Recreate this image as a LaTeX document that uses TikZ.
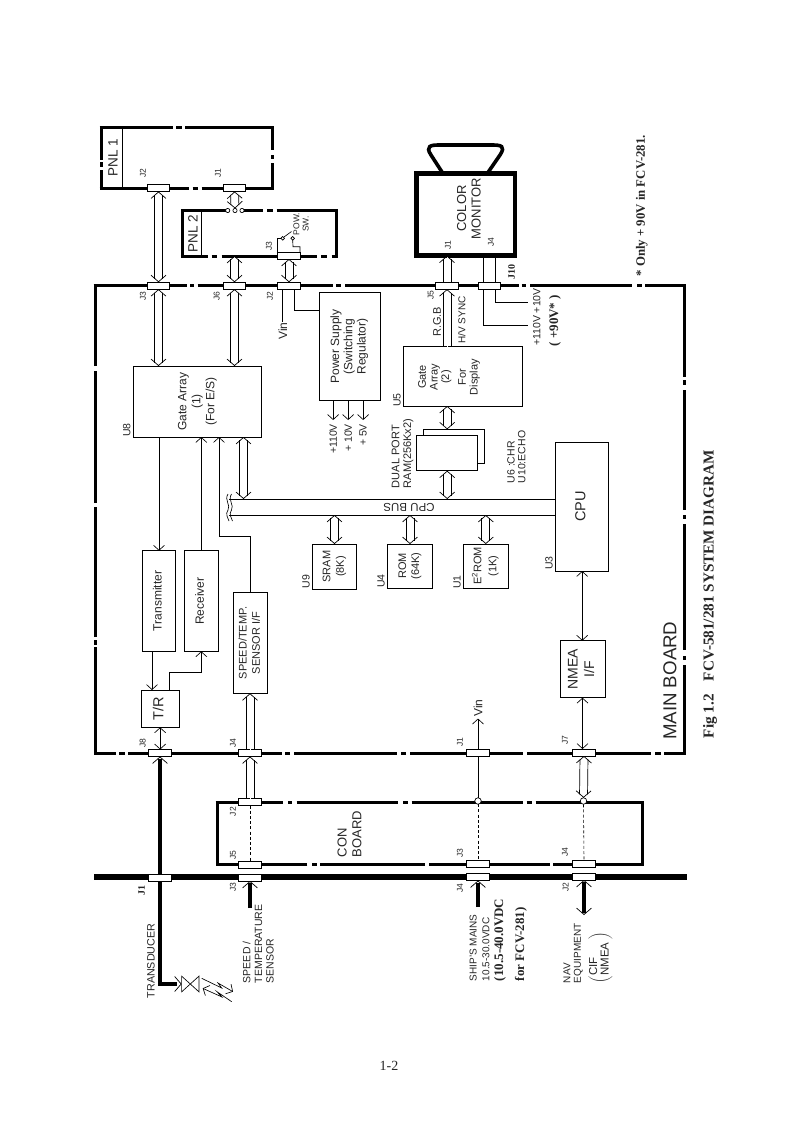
\documentclass[tikz,border=0pt]{standalone}
\usepackage{fontspec}
\usepackage{graphicx}
\setmainfont{Liberation Sans}
\newfontfamily\bsf{Liberation Serif}
\usetikzlibrary{arrows.meta,calc,backgrounds}
\newcommand\fsz[2]{\fontsize{#1}{#2}\selectfont}
\newcommand\rt[1]{\rotatebox{90}{\begin{tabular}{@{}c@{}}#1\end{tabular}}}
\tikzset{
  x=1pt,y=-1pt,
  every node/.style={inner sep=0pt,outer sep=0pt,text=black!85},
  boxn/.style={draw=black,line width=1pt,fill=white,inner sep=0pt,align=center},
  ghost/.style={inner sep=0pt},
  conn/.style={draw=black,line width=.7pt,fill=white,minimum width=22.5pt,minimum height=7pt},
  rnd/.style={circle,draw=black,line width=.7pt,fill=white,minimum size=#1},
  lab/.style={rotate=90,align=center,font=\fsz{11}{12.5}},
  labl/.style={rotate=90,align=left,anchor=west,font=\fsz{10.5}{11.7}},
  jl/.style={rotate=90,font=\fsz{8.5}{9}},
  ul/.style={rotate=90,font=\fsz{10.5}{11}},
  bdl/.style={rotate=90,font=\bsf\bfseries\fsz{13}{14}},
  bd/.style={line width=3pt,draw=black},
  thinln/.style={line width=.65pt,draw=black},
  shaftln/.style={line width=.7pt,draw=black},
  dashln/.style={line width=.6pt,draw=black,dash pattern=on 3pt off 2.2pt},
  tt/.tip={Straight Barb[length=5pt,width=11pt]},
  bb/.tip={Straight Barb[length=6.5pt,width=15pt,color=black]},
  dhead/.style={line width=.7pt,draw=white},
  fat/.style={line width=3.4pt,draw=black},
}
\newcommand\bx[7][]{\node[boxn,minimum width={(#5-#3)*1pt},minimum height={(#6-#4)*1pt},#1] (#2) at ({(#3+#5)/2},{(#4+#6)/2}) {#7};}
\newcommand\cn[3]{\node[conn] (#1) at (#2,#3) {};}
% vertical double-line arrows: two parallel rails plus open heads
\newcommand\dblBoth[2]{%
  \draw[dhead,bb-bb] #1 -- #2;
  \draw[shaftln,shorten <=3.4pt,shorten >=3.4pt,transform canvas={xshift=-4pt}] #1 -- #2;
  \draw[shaftln,shorten <=3.4pt,shorten >=3.4pt,transform canvas={xshift=4pt}] #1 -- #2;}
\newcommand\dblEnd[2]{%
  \draw[dhead,-bb] #1 -- #2;
  \draw[shaftln,shorten >=3.4pt,transform canvas={xshift=-4pt}] #1 -- #2;
  \draw[shaftln,shorten >=3.4pt,transform canvas={xshift=4pt}] #1 -- #2;}
\newcommand\fatEnd[2]{\draw[dhead,-bb] #1 -- #2;\draw[fat,shorten >=2pt] #1 -- #2;}
\newcommand\hsegs[2]{\foreach \a/\b in {#2} {\draw[bd] (\a,#1) -- (\b,#1);}}
\newcommand\vsegs[2]{\foreach \a/\b in {#2} {\draw[bd] (#1,\a) -- (#1,\b);}}
\begin{document}
\begin{tikzpicture}
\useasboundingbox (0,0) rectangle (793,1122);

% ---------- invisible frames (for names)
\node[ghost,minimum width=154.4pt,minimum height=46pt] (pnlB) at (259.5,233) {};
\node[ghost,minimum width=171pt,minimum height=61pt] (pnlA) at (186.5,157.5) {};

% ---------- connectors
\cn{JpnlTwo}{158.5}{188}\cn{JpnlOne}{234.5}{188}
\cn{JpsThree}{289}{255.5}
\cn{JmThree}{158.5}{285.7}\cn{JmSix}{234.5}{285.7}\cn{JmTwo}{289}{285.7}
\cn{JmFive}{447}{285.7}\cn{JmTen}{489.5}{285.7}
\cn{JmonFour}{489.5}{254}
\cn{JmEight}{160}{753}\cn{JmFour}{250}{753}\cn{JmOne}{478}{753}\cn{JmSeven}{584}{752.5}
\cn{JcTwo}{250}{802}\cn{JcFive}{250}{864.5}\cn{JcThree}{478}{864}\cn{JcFour}{584}{863.5}
\cn{JsOne}{160}{877.5}\cn{JsThree}{250}{877.5}\cn{JsFour}{478}{877}\cn{JsTwo}{584}{876.5}
\node[rnd=6.5pt] (cA) at (478,801) {};
\node[rnd=6.5pt] (cB) at (583.5,801) {};
\node[rnd=4.2pt] (ca) at (227.7,210.5) {};
\node[rnd=4.2pt] (cb) at (235,210.5) {};
\node[rnd=4.2pt] (cc) at (242,210.5) {};

% ---------- boxes
\bx{GA}{133.3}{366}{261.7}{437}{\fsz{12}{14}\rt{Gate Array\\(1)\\(For E/S)}}
\bx{PS}{319.3}{292.7}{380}{400}{\fsz{12}{13.3}\rt{Power Supply\\(Switching\\Regulator)}}
\bx{GB}{403.3}{346.7}{522.7}{406}{}
\bx[line width=4.5pt]{mon}{416.7}{173.3}{515}{255.7}{}
\bx{RAMb}{423.3}{429.3}{484}{463.3}{}
\bx{RAMf}{416.7}{435}{477.7}{470.7}{}
\bx{CPU}{555.7}{442}{608.7}{571}{\fsz{14.5}{16}\rt{CPU}}
\bx{SRAM}{312.3}{544}{356.7}{589}{\fsz{11}{13.5}\rt{SRAM\\(8K)}}
\bx{ROM}{387.7}{544}{432.3}{588}{\fsz{11}{13}\rt{ROM\\(64K)}}
\bx{EROM}{463.3}{544}{508.3}{588}{\fsz{11}{15}\rt{E\textsuperscript{2}ROM\\(1K)}}
\bx{TX}{142.3}{550.7}{175.7}{651.3}{\fsz{12}{13}\rt{Transmitter}}
\bx{RX}{184.3}{550.7}{218.3}{651.3}{\fsz{12}{13}\rt{Receiver}}
\bx{ST}{233.7}{592.7}{267.3}{693.3}{\fsz{11}{13.3}\rt{SPEED/TEMP.\\SENSOR I/F}}
\bx{TR}{141.3}{690}{179}{727.3}{\fsz{14.5}{16}\rt{T/R}}
\bx{NM}{560}{640.7}{605}{697.7}{\fsz{14}{16.5}\rt{NMEA\\I/F}}
\node[minimum width=17.3pt,minimum height=15.7pt] (bow) at (190.3,984) {};

% ---------- board outlines behind the connectors
\begin{pgfonlayer}{background}
 \fill[white] (0,0) rectangle (793,1122);
 % main board
 \hsegs{285.7}{93.5/186.7,190/194,197.7/333,336/340.5,345/519.3,521.7/525.5,530/631.7,637.3/641.7,645/685.5}
 \vsegs{684}{285.7/376.7,380/385,390/510,515/519.3,524.3/650,656/660,665/754.5}
 \hsegs{753}{685.5/664,660.7/655,650.7/526.7,522.7/489,467/410,406/400.5,396.7/294,290/285,281.7/128.3,125/119.3,116/93.5}
 \vsegs{95}{754.5/646.7,645/640,637/513.3,512.7/507,503/370.7,366/360.7,360.7/284.2}
 % PNL1
 \hsegs{127}{99.5/173.3,176/181.7,185/273.5}
 \vsegs{272}{127/150,155/159.3,163.3/189.5}
 \hsegs{188}{99.5/189.3,192.7/198.3,201.7/273.5}
 \vsegs{101}{127/160,162/167,170/188}
 % PNL2
 \hsegs{210}{180.8/228,243.3/263.3,267.3/272.7,276.7/338.2}
 \vsegs{336.7}{210/257.5}
 \hsegs{256}{180.8/208.3,211.7/216.7,221.7/316.7,321/326.7,331.7/338.2}
 \vsegs{182.3}{210/256}
 % CON board
 \hsegs{802}{215.5/283,288/292,296.7/398,403/408,411.7/523,526.7/531.7,535.7/643.5}
 \vsegs{642}{802/865.5}
 \hsegs{864}{643.5/553.3,550/429.3,425/320,316.7/311.7,307.3/215.5}
 \vsegs{217}{802/864}
 % chassis line
 \draw[line width=6pt,draw=black] (94,877) -- (687,877);
 % monitor handle
 \draw[line width=3.6pt,draw=black] (442,172) -- (431,155) .. controls (425,146) and (431,145) .. (439,145) -- (492,145) .. controls (501,145) and (506,146) .. (500,155) -- (488.3,172);
 \draw[thinln] (122,127) -- (122,188);
 \draw[thinln] (201.7,212) -- (201.7,256);
\end{pgfonlayer}

% ---------- double arrows
\dblBoth{(JpnlTwo.south)}{(JmThree.north)}
\dblBoth{(JmThree.south)}{(JmThree.south |- GA.north)}
\dblBoth{(JpnlOne.south)}{(cb.north)}
\dblBoth{(JmSix.north)}{(JmSix.north |- pnlB.south)}
\dblBoth{(JmSix.south)}{(JmSix.south |- GA.north)}
\dblBoth{(JpsThree.south)}{(JmTwo.north)}
\dblEnd{(JmFive.north)}{(JmFive.north |- mon.south)}
\dblEnd{(JmFive.south |- GB.north)}{(JmFive.south)}
\draw[thinln] ([xshift=-6.2pt]JmonFour.south) -- ([xshift=-6.2pt]JmTen.north);
\draw[thinln] ([xshift=6.2pt]JmonFour.south) -- ([xshift=6.2pt]JmTen.north);
\coordinate (wA) at (528,325.7);
\coordinate (wB) at (528,302.7);
\draw[thinln] ([xshift=-6.2pt]JmTen.south) |- (wA);
\draw[thinln] ([xshift=6.2pt]JmTen.south) |- (wB);

% ---------- CPU bus
\coordinate (busA) at (229,499);
\coordinate (busB) at (229,515);
\draw[thinln] (busA) -- (busA -| CPU.west);
\draw[thinln] (busB) -- (busB -| CPU.west);
\draw[thinln] (228,494) .. controls (224,500) and (231,505) .. (228,510) .. controls (225,514) and (228,518) .. (229,521);
\draw[thinln] (231.5,494) .. controls (227.5,500) and (234.5,505) .. (231.5,510) .. controls (228.5,514) and (231.5,518) .. (232.5,521);
\dblBoth{(GB.south -| RAMf.north)}{(RAMb.north -| RAMf.north)}
\dblBoth{(RAMf.south)}{(RAMf.south |- busA)}
\dblBoth{([xshift=46pt]GA.south)}{([xshift=46pt]GA.south |- busA)}
\dblBoth{(SRAM.north |- busB)}{(SRAM.north)}
\dblBoth{(ROM.north |- busB)}{(ROM.north)}
\dblBoth{(EROM.north |- busB)}{(EROM.north)}

% ---------- thin signal lines
\draw[thinln,-tt] (TX.north |- GA.south) -- (TX.north);
\draw[thinln,-tt] (RX.north) -- (RX.north |- GA.south);
\coordinate (stc) at (219,536);
\draw[thinln,-tt] (ST.north) |- (stc) -- (stc |- GA.south);
\draw[thinln,-tt] ([xshift=-7pt]TX.south) -- ([xshift=-7pt]TX.south |- TR.north);
\coordinate (rrc) at (201.3,672.3);
\draw[thinln,-tt] ([xshift=9pt]TR.north) |- (rrc) -- (RX.south);
\draw[thinln,tt-tt] (TR.south) -- (TR.south |- JmEight.north);
\dblEnd{(JmFour.north)}{(JmFour.north |- ST.south)}
\dblEnd{(JcTwo.north)}{(JmFour.south)}
\draw[thinln,tt-tt] (CPU.south) -- (CPU.south |- NM.north);
\draw[thinln,tt-tt] (NM.south) -- (NM.south |- JmSeven.north);
\dblBoth{(JmSeven.south)}{(cB.north)}
\draw[thinln] (JmOne.south) -- (cA.north);
\draw[dashln] (JcTwo.south) -- (JcFive.north);
\draw[dashln] (cA.south) -- (JcThree.north);
\draw[dashln] (cB.south) -- (JcFour.north);

% ---------- labels
\node[lab,font=\fsz{13.5}{15}] (lPA) at (113,157.5) {PNL 1};
\node[lab,font=\fsz{13.5}{15}] (lPB) at (193,233.5) {PNL 2};
\node[lab,font=\fsz{13}{14.5}] (lMon) at (469,208.5) {COLOR\\MONITOR};
\node[lab,font=\fsz{18.7}{20}] (lMain) at (670,680.7) {MAIN BOARD};
\node[labl,font=\fsz{13}{14.7}] (lCon) at (349.5,857) {CON\\BOARD};
\node[lab,font=\fsz{11}{11.7}] (lGB) at (449,377) {Gate\\Array\\(2)\\[5pt]For\\Display};
\node[lab,font=\fsz{11}{12}] (lRgb) at (437,321.7) {R.G.B};
\node[lab,font=\fsz{10}{11}] (lHv) at (461.7,320) {H/V SYNC};
\node[lab,font=\fsz{10.5}{12}] (lVolt) at (536.7,317) {+110V +10V};
\node[bdl] (lNin) at (555,320.7) {( +90V* )};
\node[lab,font=\fsz{12}{13}] (vinA) at (282.7,331) {Vin};
\node[lab,font=\fsz{12}{13}] (vinB) at (478,708) {Vin};
\draw[thinln,-tt,shorten >=2pt] (JmOne.north) -- (vinB.west);
\draw[thinln] ([xshift=-6.3pt]JmTwo.south) -- (vinA.east);
\draw[thinln] ([xshift=5.3pt]JmTwo.south) |- ([yshift=36pt]PS.west);
\node[rotate=90,anchor=east,font=\fsz{10.5}{11}] (oA) at (333.15,424) {+110V};
\node[rotate=90,anchor=east,font=\fsz{10.5}{11}] (oB) at (348.15,424) {+ 10V};
\node[rotate=90,anchor=east,font=\fsz{10.5}{11}] (oC) at (363.15,424) {+ 5V};
\draw[thinln,-tt,shorten >=4pt] ([xshift=-16.5pt]PS.south) -- (oA.east);
\draw[thinln,-tt,shorten >=4pt] ([xshift=-1.5pt]PS.south) -- (oB.east);
\draw[thinln,-tt,shorten >=4pt] ([xshift=13.5pt]PS.south) -- (oC.east);
\node[labl,font=\fsz{11}{11.7}] (lRam) at (402.5,488) {DUAL PORT\\RAM(256Kx2)};
\node[labl,font=\fsz{10.5}{10.7}] (lUsix) at (516.3,483.3) {U6 :CHR\\U10:ECHO};
\node[rotate=180,font=\fsz{11.5}{12}] (lBus) at (409,507) {CPU BUS};
% component designators
\node[ul] (uA) at (126.7,430) {U8};
\node[ul] (uB) at (397,400) {U5};
\node[ul] (uC) at (306,581.7) {U9};
\node[ul] (uD) at (381,581) {U4};
\node[ul] (uE) at (457,582) {U1};
\node[ul] (uF) at (549,563) {U3};
% connector designators
\node[jl] (ja) at (143,173) {J2};
\node[jl] (jb) at (218,173) {J1};
\node[jl] (jc) at (269,246) {J3};
\node[jl] (jd) at (143,296) {J3};
\node[jl] (je) at (216.7,296) {J6};
\node[jl] (jf) at (270,296) {J2};
\node[jl] (jg) at (430.7,295) {J5};
\node[jl] (jh) at (448,245) {J1};
\node[jl] (ji) at (491,242) {J4};
\node[rotate=90,font=\bsf\bfseries\fsz{10}{11}] (jj) at (511.7,271.7) {J10};
\node[jl] (jk) at (142.7,743) {J8};
\node[jl] (jl) at (233,743) {J4};
\node[jl] (jm) at (460,742) {J1};
\node[jl] (jn) at (565,740) {J7};
\node[jl] (jo) at (233,811.7) {J2};
\node[jl] (jp) at (233,855) {J5};
\node[jl] (jq) at (460,853) {J3};
\node[jl] (jr) at (565,852) {J4};
\node[rotate=90,font=\bsf\bfseries\fsz{10}{11}] (js) at (141.7,890.7) {J1};
\node[jl] (jt) at (233,887) {J3};
\node[jl] (ju) at (460,888) {J4};
\node[jl] (jv) at (565.7,887) {J2};
% power switch
\node[rnd=3.6pt] (swA) at (282.7,238.3) {};
\node[rnd=3.6pt] (swB) at (292.7,238.3) {};
\draw[thinln] ([xshift=-12pt]JpsThree.north) |- (swA.west);
\draw[thinln] ([xshift=11pt]JpsThree.north) |- (293,246.7) -- (swB.south);
\draw[thinln] (swA.north east) -- (291.5,231.5);
\node[lab,font=\fsz{8.5}{9.3}] (lPow) at (301,224) {POW.\\SW.};
% external side
\fatEnd{(JsOne.north)}{(JmEight.south)}
\coordinate (tdc) at (160,984);
\draw[dhead,-bb] (tdc) -- (bow.west);
\draw[fat] (JsOne.south) -- (tdc) -- (177,984);
\draw[thinln] (bow.north west) -- (bow.south east) -- (bow.north east) -- (bow.south west) -- cycle;
\coordinate (raA) at (201.7,978.3);
\coordinate (raB) at (233,991.7);
\coordinate (rbA) at (202.7,988.3);
\coordinate (rbB) at (231.7,1001.7);
\draw[thinln,-tt] (raA) -- (221.7,988) -- (218,983) -- (raB);
\draw[thinln,-tt] (rbB) -- (217,991.7) -- (222,997) -- (rbA);
\node[rotate=90,font=\fsz{10.7}{12}] (lTd) at (151,961) {TRANSDUCER};
\coordinate (sA) at (250,908);
\coordinate (sB) at (478,907);
\coordinate (sC) at (584,915);
\fatEnd{(sA)}{(JsThree.south)}
\fatEnd{(sB)}{(JsFour.south)}
\draw[dhead,bb-bb] (sC) -- (JsTwo.south);
\draw[fat,shorten <=2pt,shorten >=2pt] (sC) -- (JsTwo.south);
\node[labl,font=\fsz{10.5}{11.6}] (lSp) at (258.3,983) {SPEED /\\TEMPERATURE\\SENSOR};
\node[labl,font=\fsz{10}{12.7}] (lSh) at (479.5,981) {SHIP'S MAINS\\10.5-30.0VDC};
\node[rotate=90,anchor=west,font=\bsf\bfseries\fsz{13}{14}] (lShA) at (500,981) {(10.5-40.0VDC};
\node[rotate=90,anchor=west,font=\bsf\bfseries\fsz{13}{14}] (lShB) at (521,981) {for FCV-281)};
\node[labl,font=\fsz{10}{10.5}] (lNav) at (573,983) {NAV\\EQUIPMENT};
\node[rotate=90,anchor=west,font=\fsz{11.5}{11.5}] (lCif) at (600.5,983) {$\left(\begin{tabular}{@{}l@{}}CIF\\NMEA\end{tabular}\ \right)$};
% captions
\node[rotate=90,anchor=west,font=\bsf\bfseries\fsz{15.2}{16}] (cap) at (710,738) {Fig 1.2\hspace{13pt}FCV-581/281 SYSTEM DIAGRAM};
\node[rotate=90,anchor=east,font=\bsf\bfseries\fsz{12.8}{14}] (note) at (641.7,135) {* Only + 90V in FCV-281.};
\node[font=\bsf\fsz{14}{15}] (pg) at (389,1066) {1-2};
\end{tikzpicture}
\end{document}
